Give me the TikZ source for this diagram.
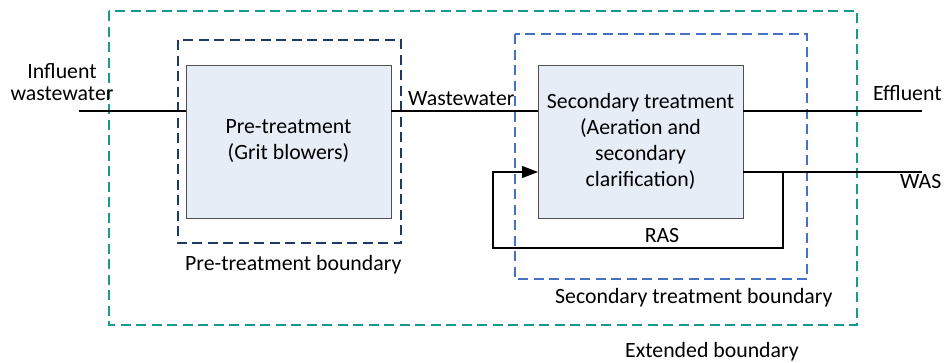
\documentclass[tikz,border=0pt]{standalone}
\usepackage{fontspec}
\setmainfont{Carlito}
\usetikzlibrary{arrows.meta}
\definecolor{boxfill}{HTML}{E7EDF7}
\definecolor{boxedge}{HTML}{505050}
\definecolor{extcol}{HTML}{16998F}
\definecolor{precol}{HTML}{1F3864}
\definecolor{seccol}{HTML}{4472C4}
\begin{document}
\begin{tikzpicture}[x=1pt,y=-1pt,
  every node/.style={font=\fontsize{21.8}{26}\selectfont, inner sep=0pt},
  unitbox/.style={draw=boxedge, fill=boxfill, line width=1pt},
  bound/.style={line width=1.1pt, dash pattern=on 10pt off 5.5pt},
  flow/.style={draw=black, line width=1.1pt},
  lbl/.style={anchor=base, text=black}]
\useasboundingbox (0,0) rectangle (946,362);
% system boundaries
\draw[bound, draw=extcol] (109,11) rectangle (857,325);
\draw[bound, draw=precol] (178,40) rectangle (401,243);
\draw[bound, draw=seccol] (515,34) rectangle (807,279);
% process units
\draw[unitbox] (186,65) rectangle (391,218);
\draw[unitbox] (538,65) rectangle (743,218);
\node[align=center] (pre) at (288.5,141.5) {Pre-treatment\\(Grit blowers)};
\node[align=center] (sec) at (640.5,141.5) {Secondary treatment\\(Aeration and\\secondary\\clarification)};
% anchor points for the flow lines
\coordinate (inA) at (79,111);
\coordinate (preL) at (186,111);
\coordinate (preR) at (391,111);
\coordinate (secL) at (538,111);
\coordinate (secR) at (743,111);
\coordinate (effOut) at (922,111);
\coordinate (secRb) at (743,172);
\coordinate (wasOut) at (922,172);
\coordinate (split) at (783,172);
\coordinate (rasA) at (783,248);
\coordinate (rasB) at (493,248);
\coordinate (rasC) at (493,172);
\coordinate (secLb) at (538,172);
% flows
\draw[flow] (inA) -- (preL);
\draw[flow] (preR) -- (secL);
\draw[flow] (secR) -- (effOut);
\draw[flow] (secRb) -- (wasOut);
\draw[flow, -{Triangle[length=16pt,width=12pt]}] (split) -- (rasA) -- (rasB) -- (rasC) -- (secLb);
% labels
\node[lbl] (influent) at (62,78) {Influent};
\node[lbl] (ww1) at (62,100) {wastewater};
\node[lbl, anchor=base west] (ww2) at (408,105) {Wastewater};
\node[lbl, anchor=base west] (eff) at (873,100) {Effluent};
\node[lbl, anchor=base west] (was) at (900,188) {WAS};
\node[lbl] (ras) at (662,242) {RAS};
\node[lbl, anchor=base west] (preb) at (185,270) {Pre-treatment boundary};
\node[lbl, anchor=base west] (secb) at (555,303) {Secondary treatment boundary};
\node[lbl, anchor=base west] (extb) at (625,357) {Extended boundary};
\end{tikzpicture}
\end{document}
